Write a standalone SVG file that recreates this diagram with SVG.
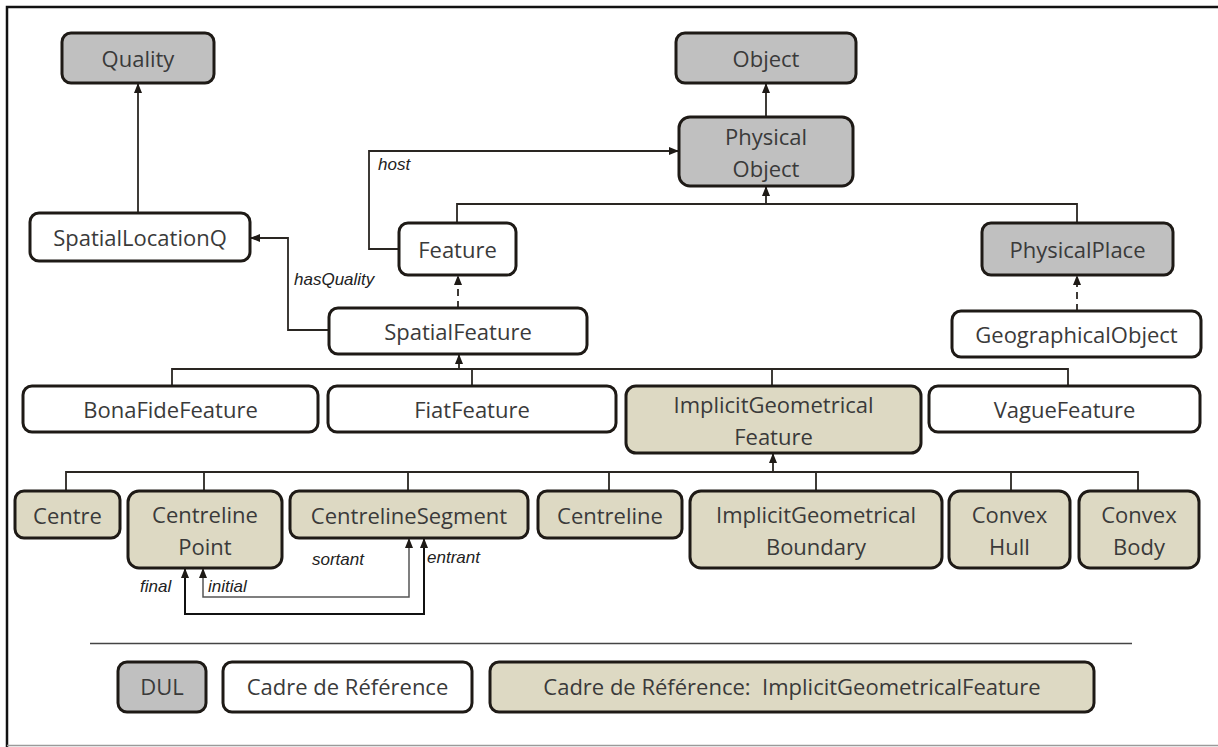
<svg xmlns="http://www.w3.org/2000/svg" width="1218" height="747" viewBox="0 0 1218 747">
<style>
.n rect{stroke:#1e1a16;stroke-width:3}
.g rect{fill:#c0c0c0}
.w rect{fill:#ffffff}
.b rect{fill:#ddd9c3}
.n text{font-family:"Open Sans","Noto Sans",sans-serif;font-size:22px;fill:#3a3a3a;text-anchor:middle}
.c path{fill:none;stroke:#2a2622;stroke-width:1.8}
.c .d{stroke-dasharray:7 5}
.lbl{font-family:"Liberation Sans",Arial,sans-serif;font-style:italic;font-size:17px;fill:#222}
</style>
<defs>
<marker id="ah" viewBox="0 0 10 8" refX="10" refY="4" markerWidth="10" markerHeight="8" markerUnits="userSpaceOnUse" orient="auto-start-reverse">
<path d="M0,0 L10,4 L0,8 z" fill="#1e1a16"/>
</marker>
</defs>
<rect x="0" y="0" width="1218" height="747" fill="#ffffff"/>
<path d="M7,747 V7 H1218" fill="none" stroke="#111" stroke-width="2.5"/>
<path d="M7,745.5 H1218" fill="none" stroke="#9a9a9a" stroke-width="1.5"/>

<g id="connectors" class="c">
<path d="M138,213 V83" marker-end="url(#ah)"/>
<path d="M766,117 V83" marker-end="url(#ah)"/>
<path d="M457,223 V204 H1077 V223"/>
<path d="M766,204 V186" marker-end="url(#ah)"/>
<path d="M399,249 H369 V151 H679" marker-end="url(#ah)"/>
<path class="d" d="M458,308 V275" marker-end="url(#ah)"/>
<path d="M329,330 H288 V238 H250" marker-end="url(#ah)"/>
<path class="d" d="M1077,311 V275" marker-end="url(#ah)"/>
<path d="M172,386 V369 H1068 V386"/>
<path d="M472,369 V386"/>
<path d="M772,369 V386"/>
<path d="M459,369 V354" marker-end="url(#ah)"/>
<path d="M66,491 V472 H1138 V491"/>
<path d="M204,472 V491"/>
<path d="M408,472 V491"/>
<path d="M609,472 V491"/>
<path d="M816,472 V491"/>
<path d="M1011,472 V491"/>
<path d="M773,472 V453" marker-end="url(#ah)"/>
<path d="M409,538 V597 H203 V568" marker-start="url(#ah)" marker-end="url(#ah)" style="stroke:#555;stroke-width:1.5"/>
<path d="M424,538 V614 H185 V568" marker-start="url(#ah)" marker-end="url(#ah)" style="stroke:#111;stroke-width:2"/>
<path d="M90,643.5 H1132" style="stroke:#444;stroke-width:1.3"/>
</g>

<g id="labels">
<text class="lbl" x="378" y="170">host</text>
<text class="lbl" x="294" y="285">hasQuality</text>
<text class="lbl" x="140" y="592">final</text>
<text class="lbl" x="208" y="592">initial</text>
<text class="lbl" x="312" y="565">sortant</text>
<text class="lbl" x="427" y="563">entrant</text>
</g>

<g id="quality" class="n g"><rect x="62" y="33" width="152" height="50" rx="9"/><text x="138" y="67">Quality</text></g>
<g id="object" class="n g"><rect x="676" y="33" width="180" height="50" rx="9"/><text x="766" y="67">Object</text></g>
<g id="physicalobject" class="n g"><rect x="679" y="117" width="174" height="69" rx="11"/><text x="766" y="144.5">Physical</text><text x="766" y="176.5">Object</text></g>
<g id="spatiallocationq" class="n w"><rect x="30" y="213" width="220" height="48" rx="9"/><text x="140" y="246">SpatialLocationQ</text></g>
<g id="feature" class="n w"><rect x="399" y="223" width="117" height="52" rx="9"/><text x="457.5" y="258">Feature</text></g>
<g id="physicalplace" class="n g"><rect x="982" y="223" width="191" height="52" rx="9"/><text x="1077.5" y="258">PhysicalPlace</text></g>
<g id="spatialfeature" class="n w"><rect x="329" y="308" width="258" height="46" rx="9"/><text x="458" y="340">SpatialFeature</text></g>
<g id="geographicalobject" class="n w"><rect x="952" y="311" width="249" height="46" rx="9"/><text x="1076.5" y="343">GeographicalObject</text></g>
<g id="bonafidefeature" class="n w"><rect x="23" y="386" width="295" height="46" rx="9"/><text x="170.5" y="418">BonaFideFeature</text></g>
<g id="fiatfeature" class="n w"><rect x="328" y="386" width="288" height="46" rx="9"/><text x="472" y="418">FiatFeature</text></g>
<g id="implicitgeometricalfeature" class="n b"><rect x="626" y="386" width="295" height="67" rx="10"/><text x="773.5" y="412.5">ImplicitGeometrical</text><text x="773.5" y="444.5">Feature</text></g>
<g id="vaguefeature" class="n w"><rect x="929" y="386" width="271" height="46" rx="9"/><text x="1064.5" y="418">VagueFeature</text></g>
<g id="centre" class="n b"><rect x="15" y="491" width="105" height="47" rx="9"/><text x="67.5" y="523.5">Centre</text></g>
<g id="centrelinepoint" class="n b"><rect x="128" y="491" width="154" height="77" rx="11"/><text x="205" y="522.5">Centreline</text><text x="205" y="554.5">Point</text></g>
<g id="centrelinesegment" class="n b"><rect x="290" y="491" width="238" height="47" rx="9"/><text x="409" y="523.5">CentrelineSegment</text></g>
<g id="centreline" class="n b"><rect x="538" y="491" width="144" height="47" rx="9"/><text x="610" y="523.5">Centreline</text></g>
<g id="implicitgeometricalboundary" class="n b"><rect x="690" y="491" width="252" height="77" rx="11"/><text x="816" y="522.5">ImplicitGeometrical</text><text x="816" y="554.5">Boundary</text></g>
<g id="convexhull" class="n b"><rect x="949" y="491" width="121" height="77" rx="11"/><text x="1009.5" y="522.5">Convex</text><text x="1009.5" y="554.5">Hull</text></g>
<g id="convexbody" class="n b"><rect x="1079" y="491" width="120" height="77" rx="11"/><text x="1139" y="522.5">Convex</text><text x="1139" y="554.5">Body</text></g>

<g id="legend-dul" class="n g"><rect x="118" y="662" width="88" height="50" rx="9"/><text x="162" y="695">DUL</text></g>
<g id="legend-cadre" class="n w"><rect x="223" y="662" width="249" height="50" rx="9"/><text x="347.5" y="695">Cadre de Référence</text></g>
<g id="legend-cadre-igf" class="n b"><rect x="490" y="662" width="604" height="50" rx="9"/><text x="792" y="695" style="white-space:pre">Cadre de Référence:  ImplicitGeometricalFeature</text></g>
</svg>
